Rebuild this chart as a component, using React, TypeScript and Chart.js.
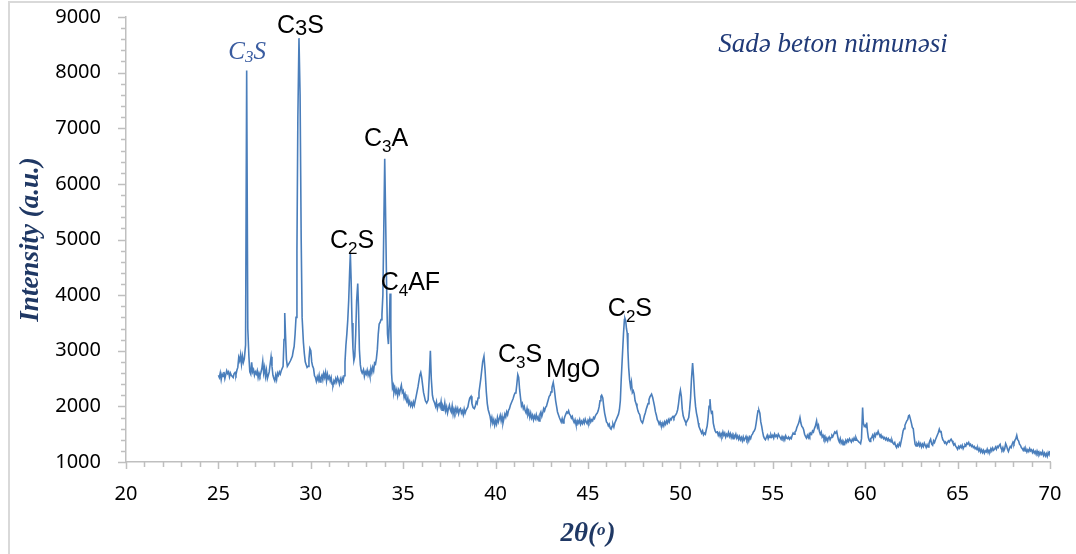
import React, { useEffect, useRef } from 'react';
import { Chart, registerables } from 'chart.js';

Chart.register(...registerables);

// ---- data (2θ in degrees, intensity in a.u.) ----
const xrdScan: [number, number][] = [
  [25.0, 2560], [25.05, 2520], [25.1, 2600], [25.15, 2480], [25.2, 2580], [25.25, 2540], [25.3, 2620], [25.35, 2500],
  [25.4, 2570], [25.45, 2640], [25.5, 2590], [25.55, 2620], [25.6, 2530], [25.65, 2600], [25.7, 2560], [25.8, 2520],
  [25.85, 2590], [25.9, 2610], [25.95, 2570], [26.0, 2650], [26.05, 2700], [26.1, 2880], [26.15, 2820], [26.2, 2930],
  [26.25, 2760], [26.3, 2900], [26.35, 2790], [26.4, 2850], [26.47, 3100], [26.53, 8040],
  [26.59, 3400], [26.65, 2900], [26.7, 2620], [26.75, 2580], [26.8, 2790], [26.85, 2620], [26.9, 2660], [26.95, 2560],
  [27.0, 2620], [27.05, 2580], [27.1, 2640], [27.15, 2520], [27.2, 2600], [27.25, 2550], [27.3, 2610], [27.35, 2680],
  [27.4, 2810], [27.45, 2600], [27.5, 2700], [27.55, 2540], [27.6, 2650], [27.65, 2500], [27.7, 2560], [27.75, 2620],
  [27.8, 2760], [27.85, 2890], [27.9, 2720], [27.95, 2560], [28.0, 2500], [28.05, 2460], [28.1, 2560], [28.15, 2480],
  [28.2, 2600], [28.25, 2560], [28.3, 2620], [28.35, 2580], [28.4, 2640], [28.5, 2720], [28.55, 3200], [28.59, 3680],
  [28.63, 3300], [28.68, 2850], [28.73, 2720], [28.8, 2760], [28.9, 2820], [29.0, 2900], [29.05, 3000], [29.1, 3080],
  [29.15, 3300], [29.2, 3600], [29.25, 4800], [29.3, 7200], [29.36, 8620], [29.42, 7600], [29.48, 5000], [29.53, 3600],
  [29.6, 3150], [29.65, 2950], [29.7, 2800], [29.75, 2750], [29.8, 2700], [29.85, 2720], [29.9, 2850], [29.95, 3040],
  [30.0, 3000], [30.05, 2800], [30.1, 2720], [30.15, 2680], [30.2, 2550], [30.25, 2520], [30.3, 2450], [30.35, 2530],
  [30.4, 2470], [30.45, 2560], [30.5, 2440], [30.55, 2520], [30.6, 2560], [30.65, 2480], [30.7, 2590], [30.75, 2520],
  [30.8, 2610], [30.85, 2460], [30.9, 2580], [30.95, 2500], [31.0, 2540], [31.05, 2460], [31.1, 2520], [31.15, 2400],
  [31.2, 2380], [31.25, 2460], [31.3, 2420], [31.35, 2500], [31.4, 2440], [31.45, 2520], [31.5, 2470], [31.55, 2400],
  [31.6, 2490], [31.65, 2430], [31.7, 2510], [31.75, 2460], [31.8, 2550], [31.85, 2800], [31.9, 3100], [31.95, 3300],
  [32.0, 3550], [32.05, 3900], [32.1, 4400], [32.14, 4750], [32.18, 4300], [32.23, 3500], [32.28, 3050], [32.33, 2820],
  [32.38, 2900], [32.43, 3300], [32.48, 3900], [32.54, 4210], [32.58, 3800], [32.63, 3020], [32.68, 2750], [32.73, 2640],
  [32.78, 2600], [32.85, 2660], [32.9, 2540], [32.95, 2620], [33.0, 2580], [33.05, 2650], [33.1, 2560], [33.15, 2620],
  [33.2, 2540], [33.25, 2680], [33.3, 2600], [33.35, 2700], [33.4, 2640], [33.45, 2780], [33.5, 2760], [33.55, 2860],
  [33.6, 3020], [33.65, 3300], [33.7, 3480], [33.75, 3510], [33.8, 3560], [33.85, 3650], [33.9, 4000], [33.95, 5200],
  [34.0, 6450], [34.04, 5600], [34.1, 4200], [34.15, 3300], [34.2, 3120], [34.25, 3500], [34.29, 4030], [34.33, 3400],
  [34.37, 2600], [34.42, 2330], [34.47, 2380], [34.5, 2250], [34.55, 2330], [34.6, 2240], [34.65, 2300], [34.7, 2190],
  [34.75, 2290], [34.8, 2230], [34.85, 2310], [34.9, 2380], [34.95, 2250], [35.0, 2280], [35.05, 2160], [35.1, 2220],
  [35.15, 2120], [35.2, 2080], [35.25, 2150], [35.3, 2040], [35.35, 2090], [35.4, 2010], [35.45, 2060], [35.5, 2000],
  [35.55, 2080], [35.6, 2020], [35.65, 2100], [35.7, 2180], [35.8, 2350], [35.9, 2560], [35.95, 2610], [36.0, 2520],
  [36.1, 2250], [36.2, 2100], [36.27, 2060], [36.35, 2120], [36.42, 2600], [36.47, 3000], [36.52, 2500], [36.58, 2200],
  [36.63, 2120], [36.7, 2060], [36.75, 2000], [36.8, 2080], [36.85, 1960], [36.9, 2030], [36.95, 2050], [37.0, 1990],
  [37.05, 2090], [37.1, 1930], [37.15, 2000], [37.2, 1950], [37.25, 2060], [37.3, 1920], [37.35, 1990], [37.4, 1880],
  [37.45, 1960], [37.5, 2020], [37.55, 1940], [37.6, 1900], [37.65, 2010], [37.7, 1860], [37.75, 1950], [37.8, 1890],
  [37.85, 1970], [37.9, 1900], [37.95, 1960], [38.0, 1870], [38.05, 1940], [38.1, 1960], [38.15, 1880], [38.2, 1920],
  [38.25, 1850], [38.3, 1950], [38.35, 1880], [38.4, 1930], [38.5, 1990], [38.55, 2080], [38.6, 2150], [38.67, 2180],
  [38.72, 2050], [38.78, 1980], [38.85, 1960], [38.9, 2000], [38.95, 2080], [39.0, 2050], [39.05, 2150], [39.1, 2250],
  [39.2, 2500], [39.3, 2800], [39.37, 2900], [39.43, 2650], [39.5, 2250], [39.55, 2050], [39.6, 1940], [39.65, 1880],
  [39.7, 1820], [39.75, 1720], [39.8, 1800], [39.85, 1700], [39.9, 1760], [39.95, 1660], [40.0, 1740], [40.05, 1680],
  [40.1, 1800], [40.15, 1720], [40.2, 1780], [40.25, 1840], [40.3, 1740], [40.35, 1820], [40.4, 1700], [40.45, 1780],
  [40.5, 1860], [40.55, 1810], [40.6, 1900], [40.65, 1850], [40.7, 1930], [40.75, 1960], [40.8, 2020], [40.85, 2060],
  [40.9, 2100], [40.95, 2140], [41.0, 2200], [41.05, 2240], [41.1, 2250], [41.15, 2400], [41.2, 2570], [41.25, 2520],
  [41.3, 2300], [41.35, 2150], [41.4, 2010], [41.45, 2050], [41.5, 1960], [41.55, 2000], [41.6, 1920], [41.65, 1880],
  [41.7, 1960], [41.75, 1850], [41.8, 1900], [41.85, 1800], [41.9, 1880], [41.95, 1790], [42.0, 1840], [42.05, 1760],
  [42.1, 1830], [42.15, 1780], [42.2, 1850], [42.25, 1770], [42.3, 1810], [42.35, 1740], [42.4, 1860], [42.45, 1900],
  [42.5, 1820], [42.55, 1880], [42.6, 1960], [42.65, 1920], [42.7, 1980], [42.75, 2000], [42.8, 2060], [42.85, 2120],
  [42.9, 2180], [42.95, 2200], [43.0, 2260], [43.05, 2340], [43.12, 2430], [43.18, 2300], [43.25, 2100], [43.3, 2000],
  [43.35, 1900], [43.4, 1850], [43.45, 1800], [43.5, 1760], [43.55, 1720], [43.6, 1780], [43.65, 1700], [43.7, 1760],
  [43.75, 1820], [43.8, 1860], [43.85, 1900], [43.9, 1880], [43.95, 1920], [44.0, 1860], [44.05, 1840], [44.1, 1790],
  [44.15, 1820], [44.2, 1750], [44.25, 1710], [44.3, 1760], [44.35, 1680], [44.4, 1670], [44.45, 1740], [44.5, 1700],
  [44.55, 1760], [44.6, 1680], [44.65, 1730], [44.7, 1690], [44.75, 1750], [44.8, 1700], [44.85, 1770], [44.9, 1720],
  [44.95, 1690], [45.0, 1750], [45.05, 1710], [45.1, 1780], [45.15, 1720], [45.2, 1760], [45.25, 1740], [45.3, 1800],
  [45.35, 1780], [45.4, 1830], [45.45, 1860], [45.5, 1880], [45.55, 1920], [45.6, 1990], [45.65, 2100], [45.7, 2180],
  [45.74, 2200], [45.8, 2150], [45.85, 2000], [45.9, 1880], [45.95, 1800], [46.0, 1720], [46.05, 1700], [46.1, 1650],
  [46.15, 1680], [46.2, 1610], [46.25, 1590], [46.3, 1640], [46.35, 1680], [46.4, 1630], [46.45, 1700], [46.5, 1740],
  [46.55, 1780], [46.6, 1820], [46.65, 1860], [46.7, 1940], [46.75, 2100], [46.8, 2500], [46.86, 2900], [46.92, 3300],
  [46.97, 3560], [47.0, 3580], [47.04, 3540], [47.08, 3400], [47.12, 3320], [47.16, 3000], [47.2, 2700], [47.25, 2480],
  [47.3, 2350], [47.35, 2440], [47.4, 2250], [47.45, 2280], [47.5, 2230], [47.55, 2100], [47.6, 2050], [47.65, 1990],
  [47.7, 1920], [47.75, 1880], [47.8, 1850], [47.85, 1760], [47.9, 1720], [47.95, 1700], [48.0, 1760], [48.05, 1830],
  [48.1, 1880], [48.15, 1950], [48.2, 2000], [48.25, 2050], [48.3, 2120], [48.35, 2170], [48.44, 2220], [48.5, 2160],
  [48.55, 2080], [48.6, 2000], [48.65, 1900], [48.7, 1840], [48.75, 1760], [48.8, 1730], [48.85, 1680], [48.9, 1720],
  [48.95, 1660], [49.0, 1640], [49.05, 1700], [49.1, 1650], [49.15, 1720], [49.2, 1680], [49.25, 1740], [49.3, 1700],
  [49.35, 1760], [49.4, 1720], [49.45, 1780], [49.5, 1760], [49.55, 1800], [49.6, 1820], [49.65, 1790], [49.7, 1830],
  [49.75, 1850], [49.8, 1880], [49.85, 1940], [49.9, 2050], [49.95, 2200], [50.0, 2290], [50.05, 2180], [50.1, 1950],
  [50.15, 1830], [50.2, 1780], [50.25, 1740], [50.3, 1700], [50.35, 1730], [50.4, 1760], [50.45, 1800], [50.5, 1950],
  [50.55, 2150], [50.6, 2500], [50.66, 2780], [50.71, 2550], [50.77, 2190], [50.82, 2000], [50.87, 1880], [50.92, 1800],
  [50.97, 1700], [51.0, 1640], [51.05, 1600], [51.1, 1560], [51.15, 1520], [51.2, 1560], [51.25, 1490], [51.3, 1520],
  [51.35, 1500], [51.4, 1580], [51.45, 1650], [51.5, 1800], [51.55, 2000], [51.6, 2130], [51.64, 1950], [51.68, 1880],
  [51.73, 1900], [51.78, 1700], [51.83, 1620], [51.88, 1560], [51.93, 1530], [52.0, 1540], [52.05, 1480], [52.1, 1520],
  [52.15, 1460], [52.2, 1510], [52.25, 1470], [52.3, 1540], [52.35, 1480], [52.4, 1520], [52.45, 1450], [52.5, 1500],
  [52.55, 1470], [52.6, 1530], [52.65, 1460], [52.7, 1510], [52.75, 1440], [52.8, 1490], [52.85, 1420], [52.9, 1480],
  [52.95, 1450], [53.0, 1500], [53.05, 1430], [53.1, 1470], [53.15, 1410], [53.2, 1460], [53.25, 1400], [53.3, 1440],
  [53.35, 1380], [53.4, 1450], [53.45, 1390], [53.5, 1420], [53.55, 1460], [53.6, 1400], [53.65, 1440], [53.7, 1380],
  [53.75, 1450], [53.8, 1420], [53.85, 1480], [53.9, 1500], [53.95, 1540], [54.0, 1560], [54.05, 1600], [54.1, 1700],
  [54.15, 1820], [54.2, 1920], [54.25, 1930], [54.3, 1880], [54.35, 1720], [54.4, 1640], [54.45, 1540], [54.5, 1460],
  [54.55, 1420], [54.6, 1400], [54.65, 1440], [54.7, 1480], [54.75, 1420], [54.8, 1470], [54.85, 1440], [54.9, 1490],
  [54.95, 1450], [55.0, 1480], [55.05, 1430], [55.1, 1500], [55.15, 1460], [55.2, 1480], [55.25, 1440], [55.3, 1500],
  [55.35, 1470], [55.4, 1440], [55.45, 1410], [55.5, 1460], [55.55, 1420], [55.6, 1450], [55.65, 1400], [55.7, 1470],
  [55.75, 1430], [55.8, 1420], [55.85, 1450], [55.9, 1410], [55.95, 1440], [56.0, 1420], [56.05, 1480], [56.1, 1520],
  [56.15, 1500], [56.2, 1540], [56.25, 1560], [56.3, 1620], [56.35, 1660], [56.4, 1700], [56.47, 1800], [56.52, 1700],
  [56.57, 1640], [56.62, 1620], [56.67, 1580], [56.72, 1500], [56.77, 1460], [56.82, 1430], [56.87, 1480], [56.92, 1440],
  [56.97, 1500], [57.0, 1470], [57.05, 1520], [57.1, 1500], [57.15, 1560], [57.2, 1540], [57.25, 1600], [57.3, 1640],
  [57.37, 1740], [57.42, 1620], [57.47, 1660], [57.52, 1550], [57.57, 1500], [57.62, 1540], [57.67, 1450], [57.72, 1480],
  [57.77, 1420], [57.82, 1460], [57.87, 1390], [57.92, 1430], [57.97, 1380], [58.0, 1420], [58.05, 1450], [58.1, 1400],
  [58.15, 1440], [58.2, 1480], [58.25, 1460], [58.3, 1500], [58.35, 1540], [58.4, 1520], [58.46, 1550], [58.5, 1480],
  [58.55, 1400], [58.6, 1360], [58.65, 1420], [58.7, 1340], [58.75, 1380], [58.8, 1310], [58.85, 1360], [58.9, 1330],
  [58.95, 1390], [59.0, 1350], [59.05, 1400], [59.1, 1370], [59.15, 1420], [59.2, 1390], [59.25, 1360], [59.3, 1410],
  [59.35, 1380], [59.4, 1430], [59.45, 1390], [59.5, 1440], [59.55, 1400], [59.6, 1380], [59.65, 1360], [59.7, 1350],
  [59.75, 1330], [59.8, 1420], [59.86, 1980], [59.9, 1700], [59.95, 1640], [60.0, 1660], [60.05, 1620], [60.08, 1710],
  [60.12, 1560], [60.17, 1440], [60.22, 1390], [60.26, 1370], [60.3, 1420], [60.35, 1440], [60.4, 1480], [60.45, 1420],
  [60.5, 1500], [60.55, 1460], [60.6, 1520], [60.65, 1500], [60.7, 1550], [60.75, 1500], [60.8, 1470], [60.85, 1490],
  [60.9, 1440], [60.95, 1460], [61.0, 1420], [61.05, 1440], [61.1, 1400], [61.15, 1430], [61.2, 1390], [61.25, 1420],
  [61.3, 1380], [61.35, 1400], [61.4, 1360], [61.45, 1390], [61.5, 1340], [61.55, 1320], [61.6, 1350], [61.65, 1290],
  [61.7, 1260], [61.75, 1310], [61.8, 1280], [61.85, 1340], [61.9, 1300], [61.95, 1380], [62.0, 1460], [62.05, 1560],
  [62.1, 1600], [62.15, 1660], [62.2, 1700], [62.25, 1740], [62.3, 1760], [62.35, 1830], [62.39, 1840], [62.44, 1780],
  [62.5, 1700], [62.55, 1620], [62.6, 1600], [62.65, 1450], [62.7, 1320], [62.75, 1290], [62.8, 1330], [62.85, 1300],
  [62.9, 1350], [62.95, 1290], [63.0, 1330], [63.05, 1270], [63.1, 1320], [63.15, 1280], [63.2, 1340], [63.25, 1300],
  [63.3, 1260], [63.35, 1310], [63.4, 1270], [63.45, 1330], [63.5, 1380], [63.54, 1410], [63.6, 1320], [63.65, 1300],
  [63.7, 1380], [63.75, 1350], [63.8, 1400], [63.85, 1440], [63.9, 1480], [63.95, 1520], [64.01, 1590], [64.06, 1540],
  [64.1, 1560], [64.15, 1460], [64.2, 1400], [64.25, 1380], [64.3, 1340], [64.35, 1360], [64.4, 1320], [64.45, 1350],
  [64.5, 1380], [64.55, 1360], [64.6, 1390], [64.65, 1410], [64.7, 1380], [64.75, 1340], [64.8, 1310], [64.85, 1330],
  [64.9, 1280], [64.95, 1260], [65.0, 1230], [65.05, 1280], [65.1, 1250], [65.15, 1290], [65.2, 1260], [65.25, 1300],
  [65.3, 1240], [65.35, 1280], [65.4, 1310], [65.45, 1290], [65.5, 1340], [65.55, 1320], [65.6, 1350], [65.65, 1300],
  [65.7, 1320], [65.75, 1280], [65.8, 1300], [65.85, 1260], [65.9, 1280], [65.95, 1240], [66.0, 1260], [66.05, 1220],
  [66.1, 1250], [66.15, 1200], [66.2, 1240], [66.25, 1180], [66.3, 1220], [66.35, 1170], [66.4, 1210], [66.45, 1160],
  [66.5, 1200], [66.55, 1180], [66.6, 1230], [66.65, 1170], [66.7, 1210], [66.75, 1190], [66.8, 1240], [66.85, 1200],
  [66.9, 1250], [66.95, 1210], [67.0, 1230], [67.05, 1270], [67.1, 1230], [67.15, 1280], [67.2, 1260], [67.25, 1300],
  [67.3, 1320], [67.35, 1250], [67.4, 1220], [67.45, 1260], [67.5, 1200], [67.55, 1240], [67.6, 1330], [67.65, 1290],
  [67.7, 1230], [67.75, 1190], [67.8, 1240], [67.85, 1280], [67.9, 1260], [67.95, 1320], [68.0, 1360], [68.05, 1330],
  [68.1, 1390], [68.15, 1420], [68.2, 1480], [68.25, 1400], [68.3, 1380], [68.35, 1320], [68.4, 1300], [68.45, 1260],
  [68.5, 1240], [68.55, 1210], [68.6, 1250], [68.65, 1200], [68.7, 1230], [68.75, 1180], [68.8, 1220], [68.85, 1190],
  [68.9, 1240], [68.95, 1200], [69.0, 1220], [69.05, 1170], [69.1, 1210], [69.15, 1160], [69.2, 1190], [69.25, 1140],
  [69.3, 1200], [69.35, 1150], [69.4, 1180], [69.45, 1130], [69.5, 1170], [69.55, 1140], [69.6, 1190], [69.65, 1120],
  [69.7, 1160], [69.75, 1110], [69.8, 1150], [69.85, 1100], [69.9, 1170], [69.95, 1130], [70.0, 1200],
];
const twoTheta = xrdScan.map((p) => p[0]);
const intensity = xrdScan.map((p) => p[1]);

const xTickValues = [20, 25, 30, 35, 40, 45, 50, 55, 60, 65, 70];
const yTickValues = [1000, 2000, 3000, 4000, 5000, 6000, 7000, 8000, 9000];

// phase labels ("_3" = subscript 3), anchored in data units (2θ, intensity of text baseline)
const phaseLabels = ['C_3S', 'C_3S', 'C_2S', 'C_3A', 'C_4AF', 'C_3S', 'MgO', 'C_2S'];
const phaseLabelTheta = [26.55, 29.44, 32.23, 34.07, 35.39, 41.32, 44.19, 47.27];
const phaseLabelIntensity = [8253, 8721, 4856, 6689, 4101, 2794, 2537, 3633];

const sampleName = 'Sadə beton nümunəsi';
const sampleTheta = 58.26;
const sampleIntensity = 8379;

const yAxisTitle = 'Intensity (a.u.)';

type Part = { t: string; sub: boolean };
function parseRich(s: string): Part[] {
  const parts: Part[] = [];
  let buf = '';
  let i = 0;
  while (i < s.length) {
    if (s[i] === '_' && i + 1 < s.length) {
      if (buf) parts.push({ t: buf, sub: false });
      buf = '';
      parts.push({ t: s[i + 1], sub: true });
      i += 2;
    } else {
      buf += s[i];
      i++;
    }
  }
  if (buf) parts.push({ t: buf, sub: false });
  return parts;
}

function drawRich(
  ctx: CanvasRenderingContext2D,
  s: string,
  cx: number,
  by: number,
  mainFont: string,
  subFont: string,
  drop: number,
  color: string
) {
  const parts = parseRich(s);
  let w = 0;
  const widths = parts.map((p) => {
    ctx.font = p.sub ? subFont : mainFont;
    const m = ctx.measureText(p.t).width;
    w += m;
    return m;
  });
  let x = cx - w / 2;
  ctx.fillStyle = color;
  ctx.textAlign = 'left';
  ctx.textBaseline = 'alphabetic';
  parts.forEach((p, i) => {
    ctx.font = p.sub ? subFont : mainFont;
    ctx.fillText(p.t, x, p.sub ? by + drop : by);
    x += widths[i];
  });
}

const axisGray = '#bfbfbf';
const navy = '#1f3864';

const decorPlugin = {
  id: 'decor',
  afterDraw(chart: any) {
    const ctx: CanvasRenderingContext2D = chart.ctx;
    const xs = chart.scales.x;
    const ys = chart.scales.y;
    const area = chart.chartArea;
    ctx.save();
    // tick marks
    ctx.strokeStyle = axisGray;
    ctx.lineWidth = 1.5;
    ctx.beginPath();
    for (let v = 20; v <= 70; v += 1) {
      const px = Math.round(xs.getPixelForValue(v)) + 0.5;
      const len = v % 5 === 0 ? 7 : 5;
      ctx.moveTo(px, area.bottom);
      ctx.lineTo(px, area.bottom + len);
    }
    for (let v = 1000; v <= 9000; v += 200) {
      const py = Math.round(ys.getPixelForValue(v)) + 0.5;
      const len = v % 1000 === 0 ? 8 : 5;
      ctx.moveTo(area.left, py);
      ctx.lineTo(area.left - len, py);
    }
    ctx.stroke();

    // phase labels
    phaseLabels.forEach((lab, i) => {
      const cx = xs.getPixelForValue(phaseLabelTheta[i]);
      const by = ys.getPixelForValue(phaseLabelIntensity[i]);
      if (i === 0) {
        drawRich(ctx, lab, cx, by, 'italic 25px "Liberation Serif"', 'italic 17px "Liberation Serif"', 3, '#3a5ca0');
      } else if (i === 1) {
        drawRich(ctx, lab, cx, by, '25px "Liberation Sans"', '22px "Liberation Sans"', 2, '#000000');
      } else {
        drawRich(ctx, lab, cx, by, '25px "Liberation Sans"', '17px "Liberation Sans"', 6, '#000000');
      }
    });

    // sample name
    ctx.font = 'italic 27px "Liberation Serif"';
    ctx.fillStyle = '#203a78';
    ctx.textAlign = 'center';
    ctx.textBaseline = 'alphabetic';
    ctx.fillText(sampleName, xs.getPixelForValue(sampleTheta), ys.getPixelForValue(sampleIntensity));

    // x-axis title: 2θ(°)
    const mainF = 'italic bold 27px "Liberation Serif"';
    const supF = 'italic bold 17px "Liberation Serif"';
    const p1 = '2θ(';
    const p2 = 'o';
    const p3 = ')';
    ctx.font = mainF;
    const w1 = ctx.measureText(p1).width;
    const w3 = ctx.measureText(p3).width;
    ctx.font = supF;
    const w2 = ctx.measureText(p2).width;
    const total = w1 + w2 + w3 + 1;
    let tx = (area.left + area.right) / 2 - total / 2;
    const tb = 541;
    ctx.fillStyle = navy;
    ctx.textAlign = 'left';
    ctx.font = mainF;
    ctx.fillText(p1, tx, tb);
    tx += w1;
    ctx.font = supF;
    ctx.fillText(p2, tx, tb - 6);
    tx += w2 + 1;
    ctx.font = mainF;
    ctx.fillText(p3, tx, tb);
    ctx.restore();
  },
};

const zeroPadding = (s: any) => {
  s.paddingTop = 0;
  s.paddingBottom = 0;
  s.paddingLeft = 0;
  s.paddingRight = 0;
};

export default function App() {
  const canvasRef = useRef<HTMLCanvasElement | null>(null);

  useEffect(() => {
    const canvas = canvasRef.current;
    if (!canvas) return;
    const points = twoTheta.map((x, i) => ({ x, y: intensity[i] }));
    const chart = new Chart(canvas, {
      type: 'line',
      data: {
        datasets: [
          {
            data: points,
            borderColor: '#4a7ebb',
            borderWidth: 1.6,
            pointRadius: 0,
            fill: false,
            tension: 0,
          },
        ],
      },
      options: {
        animation: false,
        responsive: false,
        devicePixelRatio: 1,
        layout: { padding: { top: 17, right: 26, left: 0, bottom: 0 } },
        plugins: {
          legend: { display: false },
          tooltip: { enabled: false },
          title: { display: false },
        },
        scales: {
          x: {
            type: 'linear',
            min: 20,
            max: 70,
            afterBuildTicks: (axis: any) => {
              axis.ticks = xTickValues.map((v) => ({ value: v }));
            },
            grid: { display: false, drawTicks: false },
            border: { display: true, color: axisGray, width: 1.5 },
            ticks: {
              color: '#000000',
              font: { family: 'Noto Sans', size: 20 },
              padding: 20,
              maxRotation: 0,
              autoSkip: false,
              callback: (v: any) => String(v),
            },
            afterFit: (s: any) => {
              s.height = 92;
              zeroPadding(s);
            },
          },
          y: {
            type: 'linear',
            min: 1000,
            max: 9000,
            afterBuildTicks: (axis: any) => {
              axis.ticks = yTickValues.map((v) => ({ value: v }));
            },
            grid: { display: false, drawTicks: false },
            border: { display: true, color: axisGray, width: 1.5 },
            ticks: {
              color: '#000000',
              font: { family: 'Noto Sans', size: 20 },
              padding: 25,
              autoSkip: false,
              callback: (v: any) => String(v),
            },
            title: {
              display: true,
              text: yAxisTitle,
              color: navy,
              font: { family: 'Liberation Serif', size: 27, style: 'italic', weight: 'bold' },
              padding: { top: 15, bottom: 0 },
            },
            afterFit: (s: any) => {
              s.width = 126;
              zeroPadding(s);
            },
          },
        },
      },
      plugins: [decorPlugin],
    });
    return () => chart.destroy();
  }, []);

  return (
    <div style={{ position: 'fixed', left: 0, top: 0, width: 1076, height: 554, background: '#ffffff', overflow: 'hidden' }}>
      <div
        style={{
          position: 'absolute',
          left: 8,
          top: 1,
          width: 1100,
          height: 600,
          borderLeft: '2px solid #d9d9d9',
          borderTop: '2px solid #d9d9d9',
        }}
      />
      <canvas ref={canvasRef} width={1076} height={554} style={{ position: 'absolute', left: 0, top: 0, width: 1076, height: 554 }} />
    </div>
  );
}
